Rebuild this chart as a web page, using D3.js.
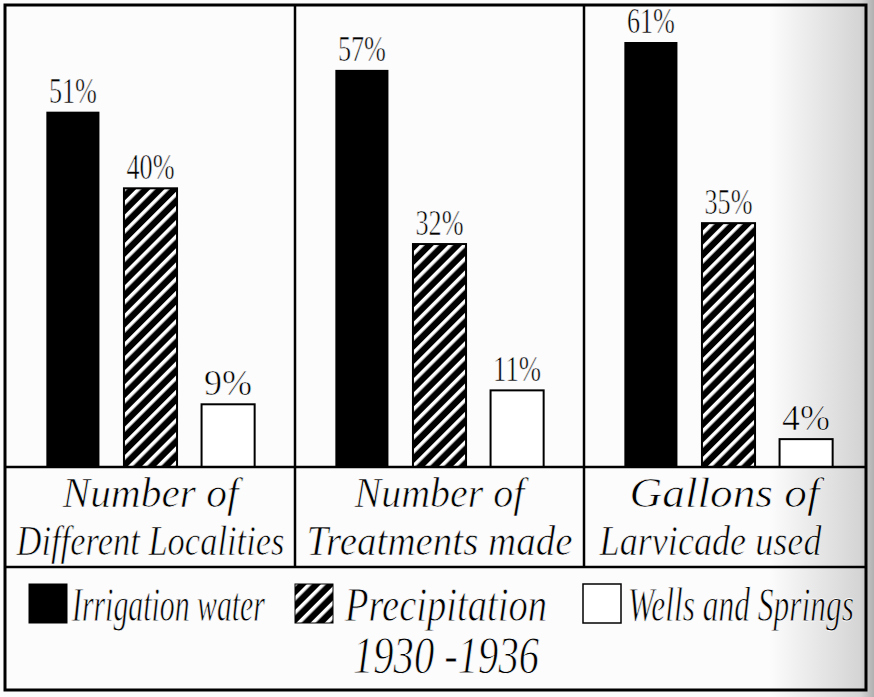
<!DOCTYPE html>
<html>
<head>
<meta charset="utf-8">
<script src="https://cdn.jsdelivr.net/npm/d3@7"></script>
<style>
  body { margin: 0; background: #fff; }
  svg { display: block; }
</style>
</head>
<body>
<svg width="874" height="697"></svg>
<script>
// data
var categoryLine1 = ["Number of", "Number of", "Gallons of"];
var categoryLine2 = ["Different Localities", "Treatments made", "Larvicade used"];
var series = ["Irrigation water", "Precipitation", "Wells and Springs"];
var seriesNote = ["", "1930 -1936", ""];
var irrigation = [51, 57, 61];
var precipitation = [40, 32, 35];
var wells = [9, 11, 4];
var values = [irrigation, precipitation, wells];

// layout
var W = 874, H = 697;
var frame = { left: 5, top: 5, right: 866, bottom: 690 };
var baseY = 467, rowY = 567;
var line1W = [176, 170, 190], line2W = [268, 266, 222];
var swatchX = [29, 295, 583], legendTextX = [72, 345, 628], legendTextW = [193, 202, 226];

var svg = d3.select("svg");
var defs = svg.append("defs");

// paper shading towards the right edge
var grad = defs.append("linearGradient").attr("id", "shade")
    .attr("x1", 0).attr("x2", 1).attr("y1", 0).attr("y2", 0);
grad.append("stop").attr("offset", "0.88").attr("stop-color", "#fcfcfc");
grad.append("stop").attr("offset", "0.985").attr("stop-color", "#d4d4d4");
grad.append("stop").attr("offset", "1").attr("stop-color", "#b0b0b0");
svg.append("rect").attr("width", W).attr("height", H).attr("fill", "url(#shade)");

var hatch = defs.append("pattern").attr("id", "hatch")
    .attr("patternUnits", "userSpaceOnUse")
    .attr("width", 10).attr("height", 10)
    .attr("patternTransform", "rotate(45)");
hatch.append("rect").attr("width", 10).attr("height", 10).attr("fill", "#000");
hatch.append("rect").attr("width", 3.6).attr("height", 10).attr("fill", "#fff");

var fills = ["#000", "url(#hatch)", "#fff"];

// squeeze a text horizontally to a given width (hand lettering is narrow)
function lettering(x, yb, str, size, width, anchor, italic, serif) {
    var t = svg.append("text")
        .attr("text-anchor", anchor)
        .attr("font-family", serif ? "Liberation Serif" : "Liberation Sans Narrow")
        .attr("font-style", italic ? "italic" : "normal")
        .attr("font-size", size)
        .attr("fill", "#000")
        .attr("stroke", "#fcfcfc")
        .attr("stroke-width", size / 60)
        .text(str);
    var w = t.node().getComputedTextLength();
    t.attr("transform", "translate(" + x + "," + yb + ") scale(" + (width / w) + ",1)");
    return t;
}

var x0 = d3.scaleBand().domain(d3.range(categoryLine1.length)).range([6, 873]);
var x1 = d3.scaleBand().domain(series).range([0, x0.bandwidth()])
    .paddingInner(0.316).paddingOuter(0.52);
var y = d3.scaleLinear().domain([0, 61]).range([baseY, 42]);

series.forEach(function (s, si) {
    values[si].forEach(function (v, ci) {
        var bx = x0(ci) + x1(s);
        svg.append("rect")
            .attr("x", bx)
            .attr("y", y(v))
            .attr("width", x1.bandwidth())
            .attr("height", baseY - y(v))
            .attr("fill", fills[si])
            .attr("stroke", si == 0 ? "none" : "#000")
            .attr("stroke-width", 2);

        lettering(bx + x1.bandwidth() / 2, y(v) - 9, v + "%", 35, 48, "middle", false, true);
    });
});

// frame and grid lines
svg.append("rect")
    .attr("x", frame.left).attr("y", frame.top)
    .attr("width", frame.right - frame.left)
    .attr("height", frame.bottom - frame.top)
    .attr("fill", "none").attr("stroke", "#000").attr("stroke-width", 3);

[baseY, rowY].forEach(function (ly) {
    svg.append("line")
        .attr("x1", frame.left).attr("x2", frame.right)
        .attr("y1", ly).attr("y2", ly)
        .attr("stroke", "#000").attr("stroke-width", 2.5);
});

d3.range(1, categoryLine1.length).forEach(function (i) {
    svg.append("line")
        .attr("x1", x0(i)).attr("x2", x0(i))
        .attr("y1", frame.top).attr("y2", rowY)
        .attr("stroke", "#000").attr("stroke-width", 2.5);
});

// category labels
categoryLine1.forEach(function (c, i) {
    var cx = x0(i) + x0.bandwidth() / 2 - (i == 2 ? 4 : 0);
    lettering(cx, 507, c, 42, line1W[i], "middle", true, false);
    lettering(cx - (i == 2 ? 14 : 0), 555, categoryLine2[i], 42, line2W[i], "middle", true, false);
});

// legend
series.forEach(function (s, i) {
    svg.append("rect")
        .attr("x", swatchX[i]).attr("y", 584)
        .attr("width", 38).attr("height", 39)
        .attr("fill", fills[i])
        .attr("stroke", "#000").attr("stroke-width", i == 2 ? 1.5 : 1);
    lettering(legendTextX[i], 621, s, 48, legendTextW[i], "start", true, false);
    if (seriesNote[i]) {
        lettering(legendTextX[i] + legendTextW[i] / 2, 673, seriesNote[i], 52, 186, "middle", true, false);
    }
});
</script>
</body>
</html>
